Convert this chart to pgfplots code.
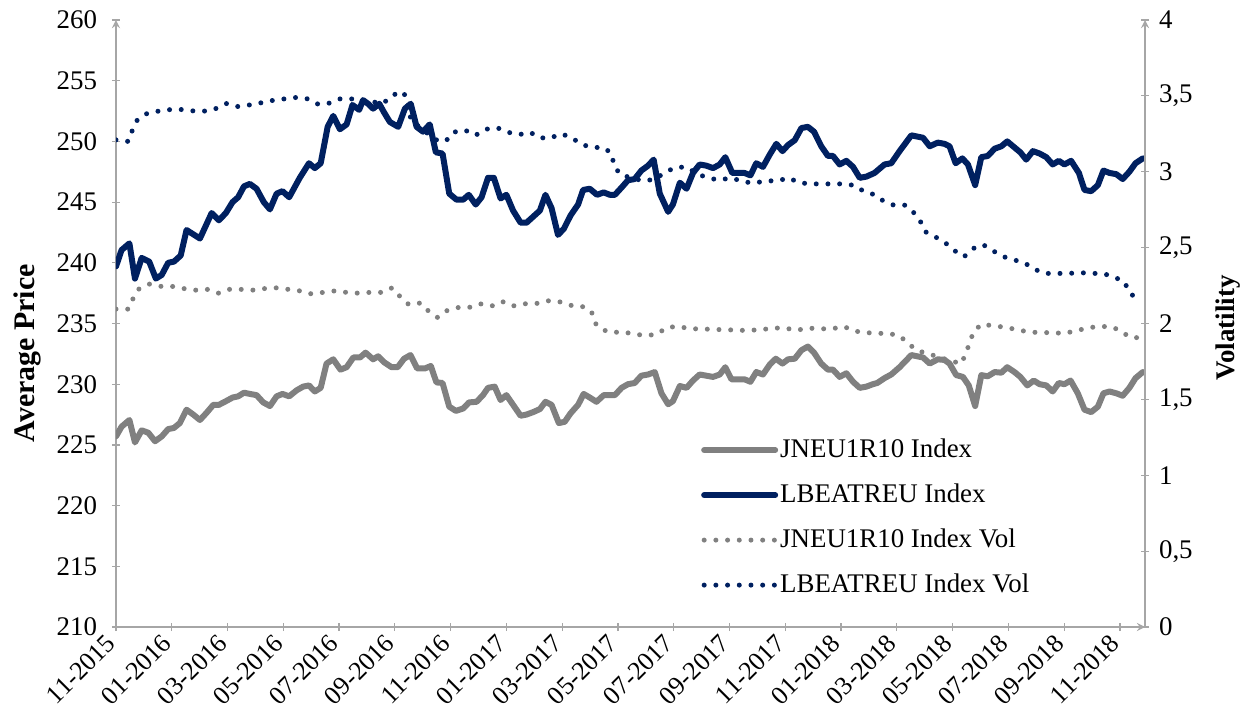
\documentclass[border=0pt]{standalone}
\usepackage{fontspec}
\setmainfont{Liberation Serif}
\usepackage{pgfplots}
\usepackage{pgfplotstable}
\pgfplotsset{compat=1.18}
\definecolor{navy}{RGB}{0,32,96}
\definecolor{sgray}{RGB}{128,128,128}
\definecolor{axgray}{RGB}{166,166,166}

\pgfplotstableread{
m v
0.00 225.7
0.20 226.5
0.48 227.05
0.68 225.2
0.92 226.2
1.16 226.0
1.40 225.3
1.64 225.7
1.87 226.3
2.08 226.4
2.29 226.8
2.53 227.9
2.77 227.5
3.01 227.05
3.25 227.65
3.49 228.3
3.69 228.3
3.94 228.6
4.18 228.9
4.38 229.0
4.59 229.3
4.80 229.2
5.04 229.1
5.28 228.5
5.52 228.2
5.76 229.0
5.97 229.2
6.21 229.0
6.48 229.5
6.71 229.8
6.92 229.9
7.13 229.4
7.34 229.7
7.55 231.7
7.79 232.05
8.05 231.2
8.27 231.4
8.51 232.2
8.75 232.2
8.95 232.6
9.22 232.05
9.40 232.3
9.62 231.8
9.88 231.4
10.10 231.4
10.33 232.1
10.56 232.4
10.80 231.3
11.08 231.3
11.29 231.5
11.49 230.15
11.71 230.1
11.95 228.15
12.19 227.8
12.45 228.0
12.66 228.5
12.93 228.55
13.16 229.1
13.34 229.7
13.58 229.8
13.79 228.7
14.00 229.1
14.24 228.3
14.51 227.4
14.72 227.5
14.96 227.7
15.20 227.95
15.40 228.55
15.62 228.3
15.88 226.8
16.09 226.9
16.30 227.6
16.57 228.3
16.77 229.2
16.99 228.9
17.23 228.55
17.49 229.1
17.89 229.1
18.13 229.7
18.36 230.0
18.60 230.1
18.84 230.7
19.08 230.8
19.32 231.0
19.56 229.25
19.80 228.35
19.97 228.6
20.22 229.85
20.46 229.7
20.69 230.3
20.93 230.8
21.17 230.7
21.41 230.6
21.65 230.8
21.85 231.4
22.07 230.4
22.37 230.4
22.54 230.4
22.75 230.2
22.96 231.0
23.20 230.8
23.44 231.6
23.66 232.1
23.90 231.7
24.10 232.05
24.34 232.1
24.58 232.8
24.81 233.1
25.03 232.6
25.29 231.7
25.53 231.2
25.71 231.2
25.95 230.6
26.19 230.9
26.43 230.2
26.67 229.7
26.91 229.8
27.14 230.0
27.30 230.1
27.56 230.5
27.80 230.8
28.10 231.4
28.52 232.4
28.94 232.2
29.18 231.7
29.47 232.05
29.71 232.0
29.89 231.7
30.13 230.75
30.37 230.6
30.58 229.9
30.81 228.2
31.03 230.75
31.26 230.65
31.51 231.0
31.75 230.95
31.96 231.4
32.22 231.0
32.43 230.6
32.68 229.9
32.91 230.3
33.12 230.0
33.36 229.9
33.59 229.4
33.81 230.1
34.01 230.0
34.23 230.3
34.49 229.25
34.73 227.9
34.97 227.7
35.21 228.15
35.41 229.25
35.63 229.4
35.87 229.25
36.10 229.05
36.34 229.7
36.56 230.5
36.82 231.0
}\jneu

\pgfplotstableread{
m v
0.00 239.7
0.20 241.05
0.48 241.6
0.68 238.7
0.92 240.4
1.19 240.1
1.43 238.7
1.64 239.0
1.87 240.0
2.08 240.1
2.32 240.6
2.53 242.7
3.01 242.0
3.43 244.1
3.69 243.5
3.94 244.1
4.18 245.0
4.38 245.4
4.59 246.3
4.80 246.5
5.04 246.1
5.30 245.0
5.52 244.4
5.76 245.7
5.97 245.9
6.21 245.4
6.59 247.0
6.92 248.2
7.13 247.8
7.34 248.2
7.59 251.2
7.79 252.1
8.03 251.0
8.27 251.4
8.48 253.0
8.72 252.6
8.86 253.4
9.04 253.1
9.22 252.7
9.44 253.1
9.61 252.4
9.82 251.6
10.12 251.2
10.36 252.7
10.57 253.1
10.78 251.2
11.01 250.8
11.25 251.4
11.47 249.1
11.71 249.0
11.95 245.7
12.21 245.2
12.45 245.2
12.65 245.6
12.90 244.8
13.11 245.4
13.34 247.0
13.55 247.0
13.79 245.3
14.00 245.6
14.24 244.3
14.51 243.3
14.72 243.3
14.96 243.8
15.20 244.3
15.40 245.6
15.62 244.5
15.85 242.3
16.06 242.8
16.30 243.9
16.57 244.8
16.75 246.0
16.99 246.1
17.25 245.6
17.49 245.8
17.71 245.6
17.89 245.6
18.13 246.2
18.36 246.8
18.60 246.9
18.84 247.6
19.08 248.0
19.28 248.5
19.50 245.7
19.80 244.2
19.97 244.8
20.22 246.6
20.46 246.1
20.69 247.4
20.93 248.1
21.17 248.0
21.41 247.8
21.65 248.1
21.85 248.7
22.10 247.4
22.37 247.4
22.54 247.4
22.75 247.2
22.96 248.2
23.20 247.9
23.44 248.9
23.68 249.8
23.90 249.2
24.10 249.7
24.34 250.1
24.58 251.1
24.81 251.2
25.03 250.8
25.29 249.6
25.53 248.8
25.71 248.8
25.95 248.1
26.19 248.4
26.43 247.9
26.67 247.0
26.91 247.1
27.20 247.4
27.56 248.1
27.80 248.2
28.10 249.2
28.52 250.5
28.94 250.3
29.18 249.6
29.47 249.9
29.71 249.8
29.89 249.6
30.11 248.2
30.35 248.6
30.55 248.1
30.81 246.4
31.03 248.7
31.26 248.8
31.51 249.4
31.75 249.6
31.96 250.0
32.22 249.5
32.43 249.1
32.64 248.5
32.88 249.2
33.12 249.0
33.36 248.7
33.59 248.1
33.81 248.4
34.01 248.1
34.25 248.4
34.53 247.4
34.73 246.0
34.97 245.9
35.21 246.4
35.41 247.6
35.63 247.4
35.87 247.3
36.10 246.9
36.34 247.5
36.56 248.2
36.82 248.6
}\lbea

\pgfplotstableread{
m v
0.00 2.095
0.44 2.095
0.60 2.16
0.80 2.225
1.19 2.26
1.61 2.245
2.00 2.245
2.44 2.23
2.86 2.22
3.27 2.225
3.67 2.20
4.06 2.225
4.47 2.225
4.90 2.22
5.32 2.23
5.76 2.235
6.18 2.225
6.59 2.215
7.01 2.195
7.43 2.205
7.85 2.215
8.27 2.205
8.68 2.20
9.10 2.205
9.54 2.205
9.90 2.235
10.20 2.175
10.50 2.125
10.92 2.135
11.19 2.085
11.53 2.04
11.87 2.085
12.25 2.105
12.65 2.105
13.05 2.13
13.47 2.115
13.85 2.145
14.22 2.115
14.60 2.13
15.04 2.13
15.46 2.15
15.88 2.145
16.27 2.12
16.69 2.115
17.05 2.08
17.17 2.005
17.38 1.965
17.74 1.94
18.16 1.945
18.60 1.93
19.02 1.92
19.40 1.93
19.76 1.975
20.18 1.98
20.60 1.965
21.01 1.965
21.44 1.96
21.86 1.96
22.28 1.955
22.72 1.955
23.16 1.96
23.58 1.97
24.00 1.97
24.40 1.955
24.81 1.97
25.23 1.965
25.67 1.965
26.10 1.98
26.49 1.95
26.89 1.94
27.31 1.935
27.72 1.935
28.13 1.915
28.42 1.865
28.76 1.82
29.15 1.80
29.56 1.775
29.93 1.755
30.31 1.735
30.47 1.80
30.75 1.945
31.03 1.995
31.47 1.985
31.89 1.975
32.30 1.96
32.70 1.945
33.12 1.94
33.54 1.94
33.98 1.935
34.40 1.95
34.81 1.97
35.21 1.98
35.65 1.98
36.01 1.955
36.34 1.91
36.76 1.905
}\jneuvol

\pgfplotstableread{
m v
0.00 3.21
0.44 3.20
0.58 3.27
0.76 3.34
1.12 3.385
1.54 3.40
1.96 3.41
2.39 3.41
2.81 3.40
3.25 3.40
3.65 3.42
3.97 3.45
4.36 3.43
4.78 3.44
5.22 3.455
5.62 3.47
6.03 3.48
6.48 3.49
6.89 3.48
7.25 3.445
7.61 3.45
8.03 3.48
8.45 3.48
8.86 3.47
9.22 3.46
9.58 3.45
9.88 3.50
10.24 3.53
10.39 3.50
10.57 3.35
10.90 3.29
11.49 3.21
11.82 3.20
12.09 3.26
12.51 3.275
12.89 3.24
13.25 3.28
13.67 3.29
14.06 3.26
14.46 3.245
14.86 3.26
15.16 3.225
15.56 3.22
15.94 3.25
16.30 3.23
16.69 3.18
17.09 3.16
17.49 3.16
17.77 3.12
17.86 3.04
18.09 2.98
18.48 2.96
18.90 2.94
19.32 2.95
19.68 2.995
20.07 3.03
20.48 3.03
20.84 2.985
21.23 2.96
21.62 2.945
22.07 2.96
22.48 2.935
22.88 2.925
23.30 2.94
23.72 2.94
24.13 2.96
24.46 2.93
24.85 2.92
25.26 2.92
25.65 2.92
26.07 2.92
26.49 2.91
26.82 2.87
27.18 2.85
27.50 2.81
27.89 2.78
28.28 2.78
28.61 2.73
28.84 2.675
29.02 2.605
29.39 2.57
29.75 2.53
30.07 2.48
30.41 2.44
30.75 2.495
31.09 2.52
31.44 2.48
31.83 2.44
32.19 2.42
32.58 2.40
32.90 2.36
33.32 2.33
33.74 2.33
34.16 2.33
34.58 2.335
34.97 2.33
35.39 2.33
35.81 2.305
36.16 2.275
36.34 2.205
36.67 2.15
}\lbeavol

\pgfplotsset{
  every axis/.append style={
    scale only axis, width=514.5bp, height=303.5bp,
    xmin=0, xmax=36.9,
    tick align=outside, major tick length=4bp,
    every tick/.style={draw=axgray, line width=0.6bp},
    axis line style={draw=axgray, line width=0.8bp, -},
    tick label style={font=\fontsize{13.5}{16}\selectfont, text=black},
  },
  solidline/.style={line width=3bp, line join=round, line cap=round},
  dotline/.style={line width=2.5bp, line cap=round, dash pattern=on 0bp off 5.85bp},
}

\begin{document}
\begin{tikzpicture}
\begin{axis}[
  axis x line=bottom, axis y line=left,
  ymin=210, ymax=260,
  ytick={210,215,...,260},
  yticklabels={210,215,220,225,230,235,240,245,250,255,260},
  every y tick label/.append style={anchor=east, xshift=-4bp},
  xtick={0,2,...,36},
  xticklabels={11-2015,01-2016,03-2016,05-2016,07-2016,09-2016,11-2016,01-2017,03-2017,05-2017,07-2017,09-2017,11-2017,01-2018,03-2018,05-2018,07-2018,09-2018,11-2018},
  xticklabel style={rotate=45, anchor=east, font=\fontsize{13}{15}\selectfont},
  xticklabel shift=1.5bp,
  ylabel={Average Price},
  ylabel style={at={(axis description cs:-0.0865,0.451)}, anchor=center,
    font=\fontsize{15}{18}\selectfont\bfseries},
]
\addplot[sgray, solidline] table[x=m, y=v] {\jneu};
\addplot[navy, solidline] table[x=m, y=v] {\lbea};
\end{axis}
\begin{axis}[
  axis x line=none, axis y line=right,
  ymin=0, ymax=4,
  ytick={0,0.5,...,4},
  yticklabels={0,{0,5},1,{1,5},2,{2,5},3,{3,5},4},
  every y tick label/.append style={anchor=west, xshift=1.5bp},
  ylabel={Volatility},
  ylabel style={at={(axis description cs:1.0807,0.4926)}, anchor=center, rotate=0,
    font=\fontsize{13.5}{16}\selectfont\bfseries},
  legend style={at={(axis description cs:0.5683,0.3135)}, anchor=north west,
    draw=none, fill=none, inner sep=0pt,
    font=\fontsize{13.5}{16}\selectfont,
    nodes={inner sep=0pt, text height=10bp, text depth=3bp},
    row sep=9.5bp,
    /tikz/every odd column/.append style={column sep=1bp}},
  legend cell align=left,
  legend image code/.code={\draw[#1] (0bp,0bp) -- (35.5bp,0bp);},
]
\addlegendimage{sgray, solidline}
\addlegendentry{JNEU1R10 Index}
\addlegendimage{navy, solidline}
\addlegendentry{LBEATREU Index}
\addplot[sgray, dotline] table[x=m, y=v] {\jneuvol};
\addlegendentry{JNEU1R10 Index Vol}
\addplot[navy, dotline] table[x=m, y=v] {\lbeavol};
\addlegendentry{LBEATREU Index Vol}
\end{axis}
\pgfresetboundingbox
\path (-58bp,-44bp) rectangle (567.5bp,313.5bp);
\end{tikzpicture}
\end{document}
